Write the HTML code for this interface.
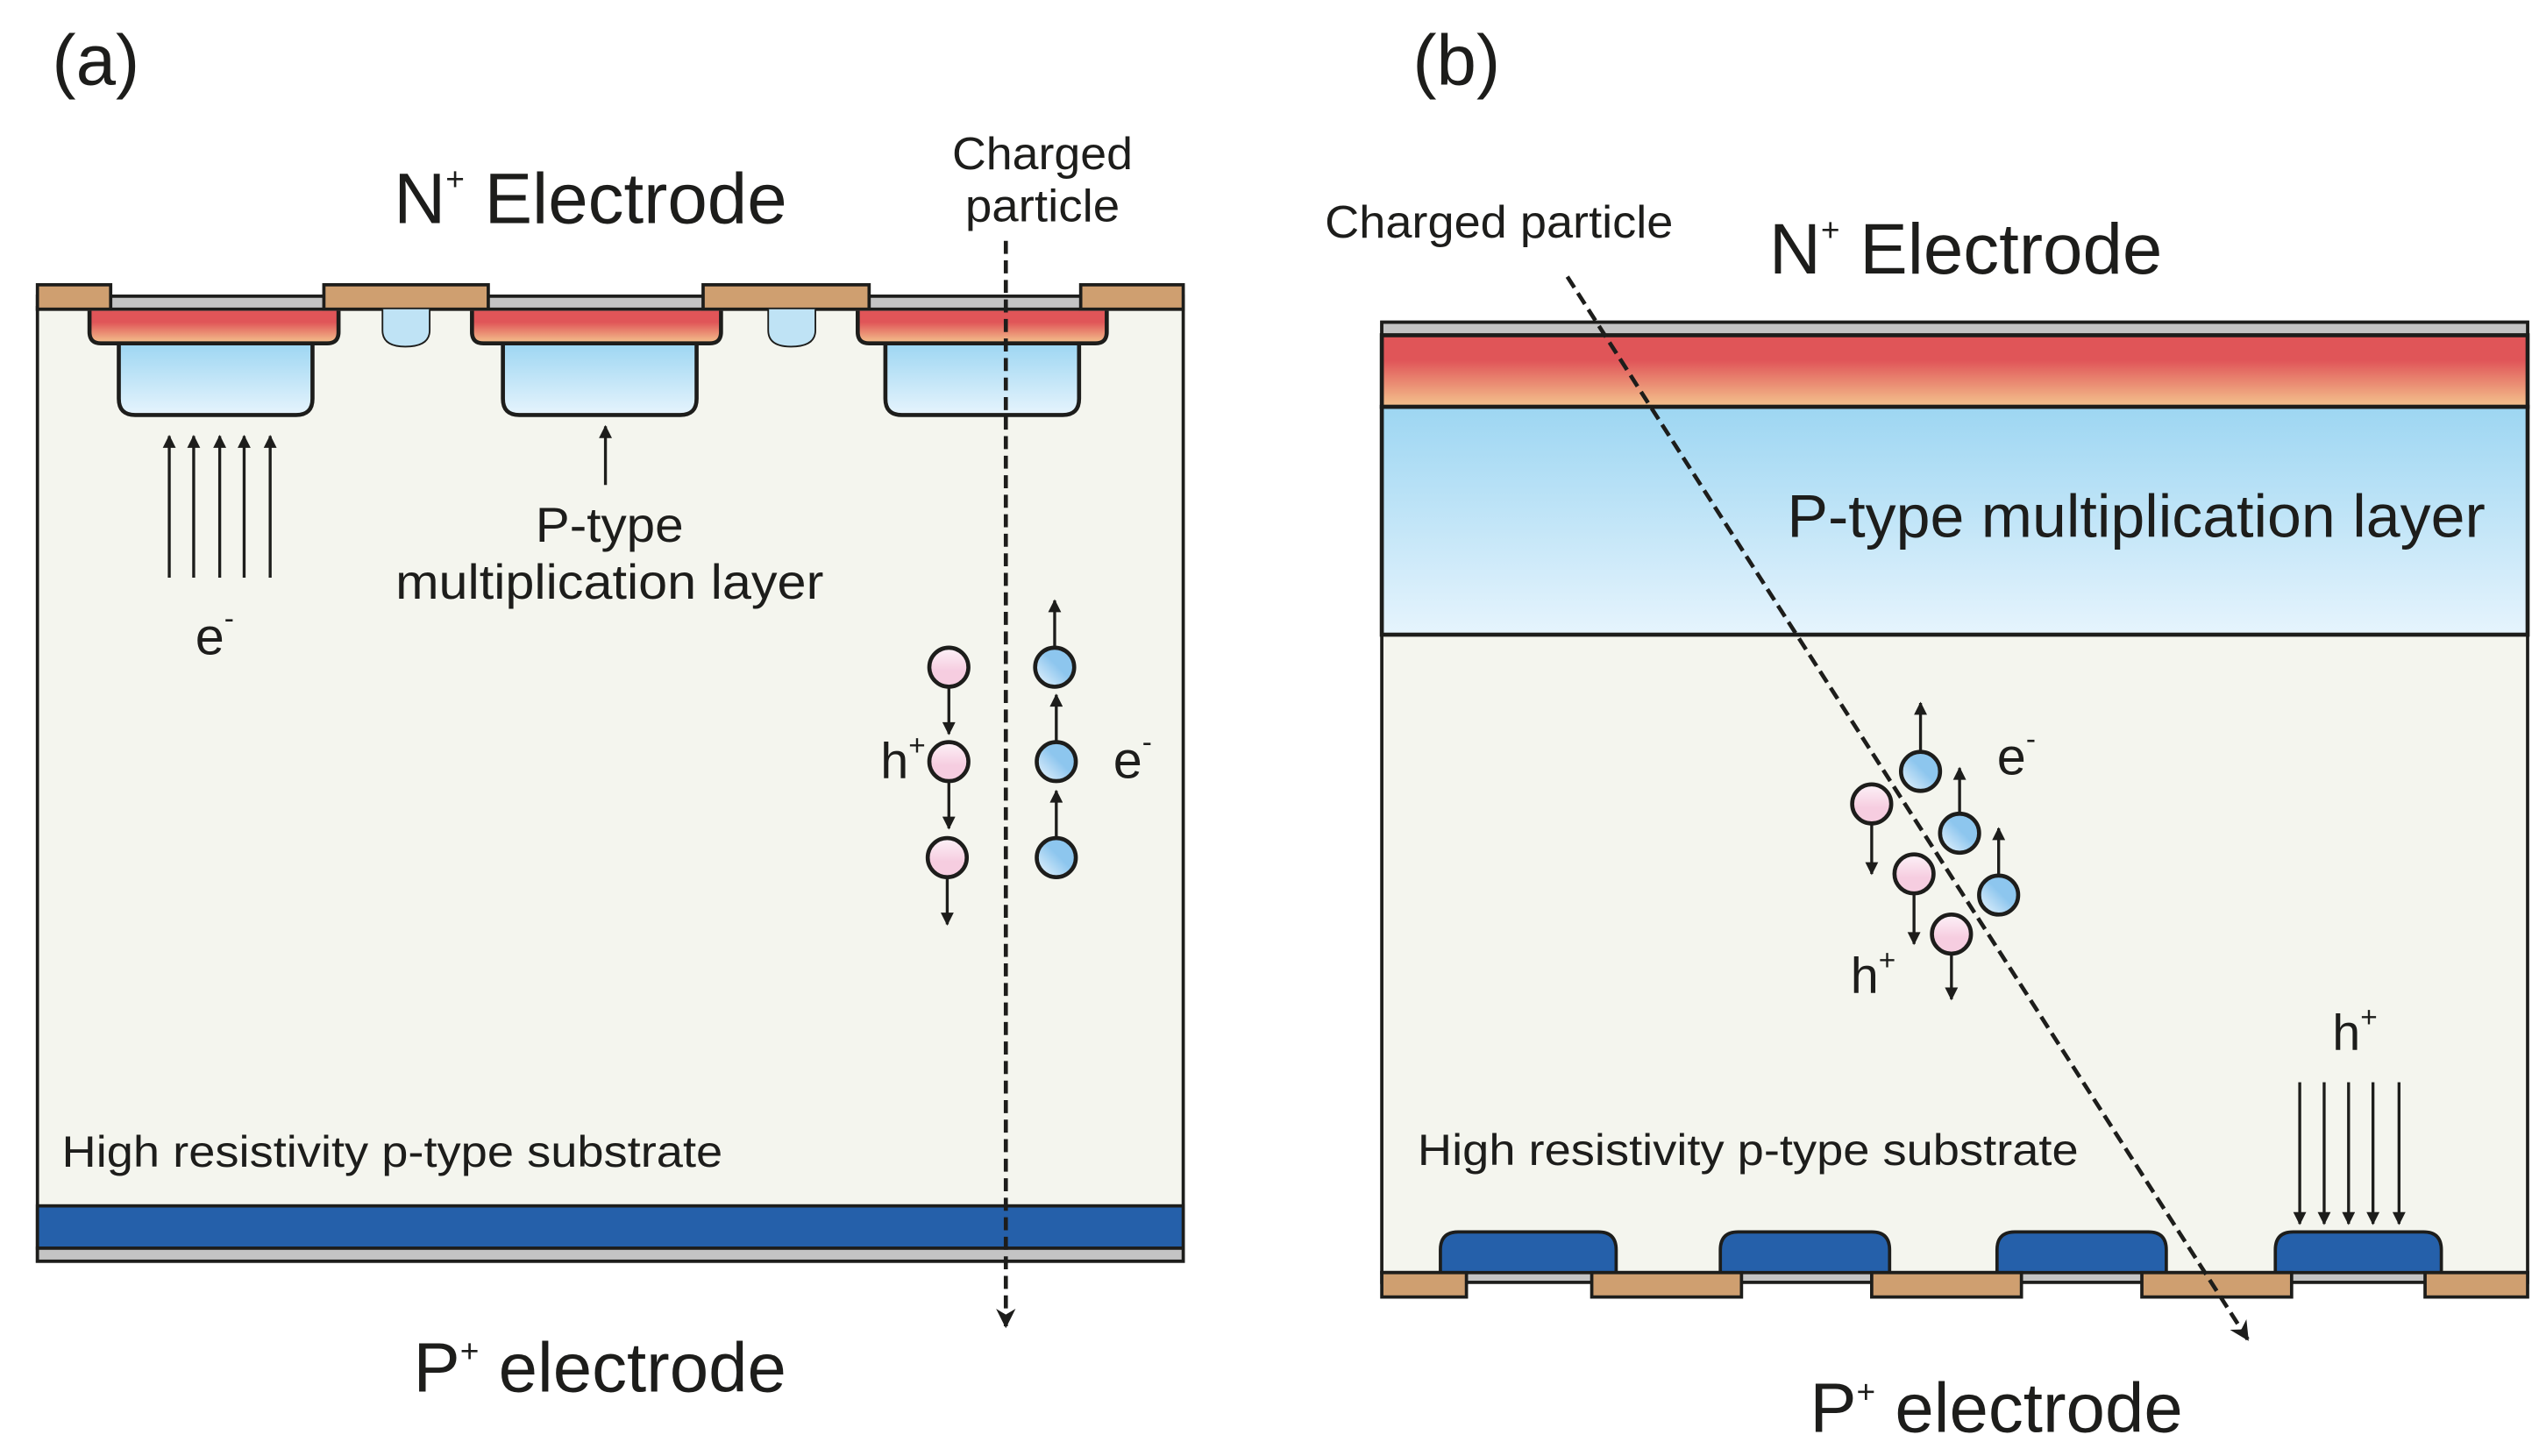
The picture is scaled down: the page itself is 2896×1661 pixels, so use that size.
<!DOCTYPE html>
<html><head><meta charset="utf-8"><style>html,body{margin:0;padding:0;background:#fff}svg{display:block}text{font-family:"Liberation Sans",Arial,sans-serif;fill:#1d1d1b}</style></head>
<body>
<svg width="2896" height="1661" viewBox="0 0 1560 894.7" preserveAspectRatio="none" xmlns="http://www.w3.org/2000/svg">
<defs>
<linearGradient id="red" x1="0" y1="0" x2="0" y2="1"><stop offset="0" stop-color="#e05558"/><stop offset="0.35" stop-color="#e05558"/><stop offset="1" stop-color="#f4c48e"/></linearGradient>
<linearGradient id="blu" x1="0" y1="0" x2="0" y2="1"><stop offset="0" stop-color="#9dd6f2"/><stop offset="1" stop-color="#e6f4fd"/></linearGradient>
<linearGradient id="pk" x1="0" y1="0" x2="0" y2="1"><stop offset="0" stop-color="#fdf2f8"/><stop offset="0.6" stop-color="#f6cde0"/></linearGradient>
<linearGradient id="bc" x1="1" y1="0" x2="0" y2="1"><stop offset="0.45" stop-color="#8dc6ee"/><stop offset="1" stop-color="#eef7fe"/></linearGradient>
<marker id="ah" viewBox="0 0 10 10" refX="9" refY="5" markerWidth="11" markerHeight="8" markerUnits="userSpaceOnUse" orient="auto"><path d="M0,0 L10,5 L0,10z" fill="#1d1d1b"/></marker>
<marker id="ahb" viewBox="0 0 10 10" refX="9" refY="5" markerWidth="18" markerHeight="12" markerUnits="userSpaceOnUse" orient="auto"><path d="M0,0 L10,5 L0,10 L3,5z" fill="#1d1d1b"/></marker>
</defs>
<g stroke="#1d1d1b" stroke-width="2">
<rect x="23" y="189" width="704" height="586" fill="#f4f5ee"/>
<rect x="23" y="741" width="704" height="26" fill="#2560aa"/>
<rect x="23" y="767" width="704" height="8" fill="#c4c4c4"/>
<rect x="23" y="182" width="704" height="8" fill="#c4c4c4"/>
<rect x="23" y="175" width="45" height="15" fill="#cf9f70"/>
<rect x="199" y="175" width="101" height="15" fill="#cf9f70"/>
<rect x="432" y="175" width="102" height="15" fill="#cf9f70"/>
<rect x="664" y="175" width="63" height="15" fill="#cf9f70"/>
<path d="M235,190 V203 Q235,213 249,213 Q264,213 264,203 V190" fill="#bfe3f5" stroke-width="1"/>
<path d="M472,190 V203 Q472,213 486,213 Q501,213 501,203 V190" fill="#bfe3f5" stroke-width="1"/>
<g stroke-width="2.5">
<path d="M73,211 V245 Q73,255 83,255 H182 Q192,255 192,245 V211" fill="url(#blu)"/>
<path d="M309,211 V245 Q309,255 319,255 H418 Q428,255 428,245 V211" fill="url(#blu)"/>
<path d="M544,211 V245 Q544,255 554,255 H653 Q663,255 663,245 V211" fill="url(#blu)"/>
<path d="M55,191 V204 Q55,211 62,211 H201 Q208,211 208,204 V191" fill="url(#red)"/>
<path d="M290,191 V204 Q290,211 297,211 H436 Q443,211 443,204 V191" fill="url(#red)"/>
<path d="M527,191 V204 Q527,211 534,211 H673 Q680,211 680,204 V191" fill="url(#red)"/>
</g>
<g marker-end="url(#ah)" stroke-width="1.8">
<line x1="104" y1="355" x2="104" y2="268"/><line x1="119" y1="355" x2="119" y2="268"/><line x1="135" y1="355" x2="135" y2="268"/><line x1="150" y1="355" x2="150" y2="268"/><line x1="166" y1="355" x2="166" y2="268"/>
<line x1="372" y1="298" x2="372" y2="262"/>
<line x1="583" y1="421" x2="583" y2="451"/><line x1="583" y1="479" x2="583" y2="509"/><line x1="582" y1="538" x2="582" y2="568"/>
<line x1="648" y1="399" x2="648" y2="369"/><line x1="649" y1="457" x2="649" y2="427"/><line x1="649" y1="516" x2="649" y2="486"/>
</g>
<circle cx="583" cy="410" r="12" fill="url(#pk)" stroke-width="2.5"/>
<circle cx="583" cy="468" r="12" fill="url(#pk)" stroke-width="2.5"/>
<circle cx="582" cy="527" r="12" fill="url(#pk)" stroke-width="2.5"/>
<circle cx="648" cy="410" r="12" fill="url(#bc)" stroke-width="2.5"/>
<circle cx="649" cy="468" r="12" fill="url(#bc)" stroke-width="2.5"/>
<circle cx="649" cy="527" r="12" fill="url(#bc)" stroke-width="2.5"/>
<line x1="618" y1="148" x2="618" y2="815" stroke-width="2.5" stroke-dasharray="8,4" marker-end="url(#ahb)"/>
<rect x="849" y="198" width="704" height="584" fill="#f4f5ee"/>
<rect x="849" y="198" width="704" height="8" fill="#c4c4c4"/>
<rect x="849" y="206" width="704" height="44" fill="url(#red)" stroke-width="2.5"/>
<rect x="849" y="250" width="704" height="140" fill="url(#blu)" stroke-width="2.5"/>
<path d="M885,782 V768 Q885,757 896,757 H982 Q993,757 993,768 V782" fill="#2560aa"/>
<path d="M1057,782 V768 Q1057,757 1068,757 H1150 Q1161,757 1161,768 V782" fill="#2560aa"/>
<path d="M1227,782 V768 Q1227,757 1238,757 H1320 Q1331,757 1331,768 V782" fill="#2560aa"/>
<path d="M1398,782 V768 Q1398,757 1409,757 H1489 Q1500,757 1500,768 V782" fill="#2560aa"/>
<rect x="849" y="782" width="704" height="6" fill="#c4c4c4"/>
<rect x="849" y="782" width="52" height="15" fill="#cf9f70"/>
<rect x="978" y="782" width="92" height="15" fill="#cf9f70"/>
<rect x="1150" y="782" width="92" height="15" fill="#cf9f70"/>
<rect x="1316" y="782" width="92" height="15" fill="#cf9f70"/>
<rect x="1490" y="782" width="63" height="15" fill="#cf9f70"/>
<g marker-end="url(#ah)" stroke-width="1.8">
<line x1="1413" y1="665" x2="1413" y2="752"/><line x1="1428" y1="665" x2="1428" y2="752"/><line x1="1443" y1="665" x2="1443" y2="752"/><line x1="1458" y1="665" x2="1458" y2="752"/><line x1="1474" y1="665" x2="1474" y2="752"/>
<line x1="1180" y1="463" x2="1180" y2="432"/><line x1="1204" y1="501" x2="1204" y2="472"/><line x1="1228" y1="539" x2="1228" y2="509"/>
<line x1="1150" y1="505" x2="1150" y2="537"/><line x1="1176" y1="548" x2="1176" y2="580"/><line x1="1199" y1="585" x2="1199" y2="614"/>
</g>
<line x1="963" y1="170" x2="1381" y2="823" stroke-width="2.5" stroke-dasharray="8,4" marker-end="url(#ahb)"/>
<circle cx="1180" cy="474" r="12" fill="url(#bc)" stroke-width="2.5"/>
<circle cx="1204" cy="512" r="12" fill="url(#bc)" stroke-width="2.5"/>
<circle cx="1228" cy="550" r="12" fill="url(#bc)" stroke-width="2.5"/>
<circle cx="1150" cy="494" r="12" fill="url(#pk)" stroke-width="2.5"/>
<circle cx="1176" cy="537" r="12" fill="url(#pk)" stroke-width="2.5"/>
<circle cx="1199" cy="574" r="12" fill="url(#pk)" stroke-width="2.5"/>
</g>
<text x="32" y="52" font-size="44">(a)</text>
<text x="868" y="52" font-size="44">(b)</text>
<text x="242" y="137" font-size="44">N<tspan font-size="20" dy="-20">+</tspan><tspan dy="20"> Electrode</tspan></text>
<text x="1087" y="168" font-size="44">N<tspan font-size="20" dy="-20">+</tspan><tspan dy="20"> Electrode</tspan></text>
<text x="585" y="104" font-size="28" textLength="111" lengthAdjust="spacingAndGlyphs">Charged</text>
<text x="593" y="136" font-size="28" textLength="95" lengthAdjust="spacingAndGlyphs">particle</text>
<text x="814" y="146" font-size="28" textLength="214" lengthAdjust="spacingAndGlyphs">Charged particle</text>
<text x="329" y="333" font-size="30" textLength="91" lengthAdjust="spacingAndGlyphs">P-type</text>
<text x="243" y="368" font-size="30" textLength="263" lengthAdjust="spacingAndGlyphs">multiplication layer</text>
<text x="1098" y="330" font-size="37" textLength="429" lengthAdjust="spacingAndGlyphs">P-type multiplication layer</text>
<text x="120" y="402" font-size="32">e<tspan font-size="18" dy="-16">-</tspan></text>
<text x="541" y="478" font-size="31">h<tspan font-size="18" dy="-14">+</tspan></text>
<text x="684" y="478" font-size="32">e<tspan font-size="18" dy="-16">-</tspan></text>
<text x="1227" y="476" font-size="32">e<tspan font-size="18" dy="-16">-</tspan></text>
<text x="1137" y="610" font-size="31">h<tspan font-size="18" dy="-14">+</tspan></text>
<text x="1433" y="645" font-size="31">h<tspan font-size="18" dy="-14">+</tspan></text>
<text x="38" y="717" font-size="27" textLength="406" lengthAdjust="spacingAndGlyphs">High resistivity p-type substrate</text>
<text x="871" y="716" font-size="27" textLength="406" lengthAdjust="spacingAndGlyphs">High resistivity p-type substrate</text>
<text x="254" y="855" font-size="43">P<tspan font-size="20" dy="-18">+</tspan><tspan dy="18"> electrode</tspan></text>
<text x="1112" y="880" font-size="43">P<tspan font-size="20" dy="-18">+</tspan><tspan dy="18"> electrode</tspan></text>
</svg>
</body></html>
